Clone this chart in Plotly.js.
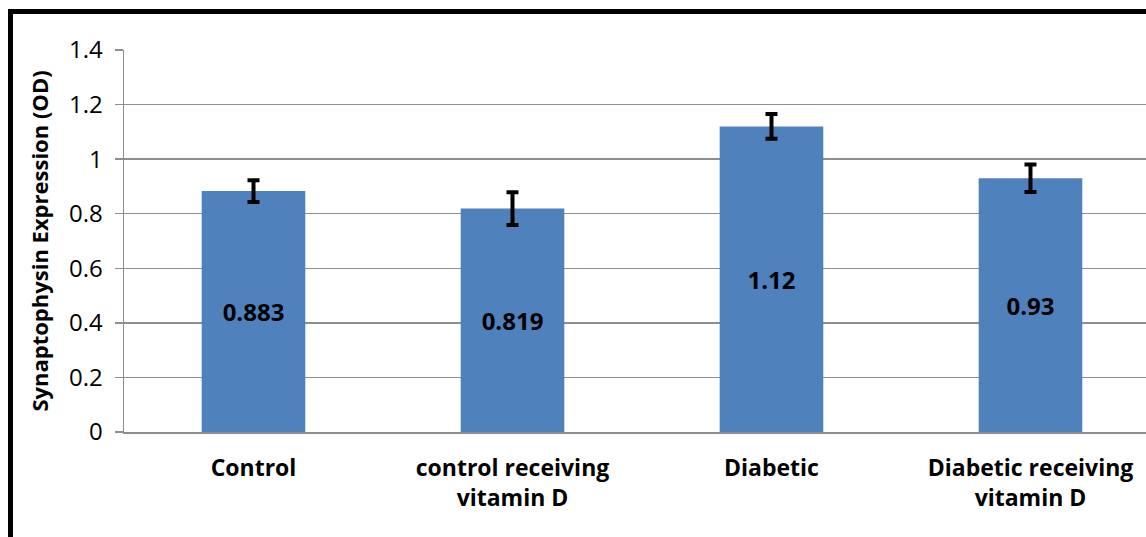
<!DOCTYPE html>
<html>
<head>
<meta charset="utf-8">
<script src="https://cdn.plot.ly/plotly-3.0.1.min.js"></script>
<style>
  html, body { margin: 0; padding: 0; background: #ffffff; }
  #chart { width: 1146px; height: 537px; }
</style>
</head>
<body>
<div id="chart"></div>
<script>
// Data
const categories = [
  "Control",
  "control receiving<br>vitamin D",
  "Diabetic",
  "Diabetic receiving<br>vitamin D"
];
const values = [0.883, 0.819, 1.12, 0.93];
const valueLabels = ["0.883", "0.819", "1.12", "0.93"];
const errors = [0.04, 0.06, 0.045, 0.05];
const yTickValues = [0, 0.2, 0.4, 0.6, 0.8, 1, 1.2, 1.4];

const FONT = "'Open Sans', 'Liberation Sans', sans-serif";
const GRID = "#8e8e8e";

const trace = {
  type: "bar",
  x: categories,
  y: values,
  width: 0.4,
  marker: { color: "#4f81bd", line: { width: 0 } },
  text: valueLabels,
  textposition: "inside",
  insidetextanchor: "middle",
  textangle: 0,
  textfont: { family: FONT, size: 24, color: "#000000", weight: "bold" },
  error_y: {
    type: "data",
    array: errors,
    visible: true,
    color: "#000000",
    thickness: 4,
    width: 6
  },
  hoverinfo: "skip"
};

const layout = {
  width: 1146,
  height: 537,
  margin: { l: 124, r: 0, t: 50, b: 105 },
  paper_bgcolor: "#ffffff",
  plot_bgcolor: "#ffffff",
  showlegend: false,
  font: { family: FONT, color: "#000000" },
  xaxis: {
    type: "category",
    range: [-0.5, 3.446],
    showgrid: false,
    showline: true,
    linecolor: GRID,
    linewidth: 1.5,
    ticks: "",
    tickfont: { family: FONT, size: 23, color: "#000000", weight: "bold" },
    ticklabelstandoff: 15,
    zeroline: false
  },
  yaxis: {
    range: [0, 1.4],
    tickvals: yTickValues,
    ticktext: yTickValues.map(v => String(v)),
    showgrid: true,
    gridcolor: GRID,
    gridwidth: 1.5,
    showline: true,
    linecolor: GRID,
    linewidth: 1.5,
    ticks: "outside",
    ticklen: 8,
    tickcolor: GRID,
    tickwidth: 1.5,
    tickfont: { family: FONT, size: 24, color: "#000000" },
    ticklabelstandoff: 7,
    zeroline: false,
    title: {
      text: "<b>Synaptophysin Expression (OD)</b>",
      font: { family: FONT, size: 22, color: "#000000", weight: "bold" },
      standoff: 14
    }
  },
  shapes: [
    // black frame (left and top edges visible in the reference)
    { type: "line", xref: "paper", yref: "paper",
      x0: (10.5 - 124) / 1022, x1: (10.5 - 124) / 1022,
      y0: 1 + (50 - 11.5) / 382, y1: -0.3,
      line: { color: "#000000", width: 5 } },
    { type: "line", xref: "paper", yref: "paper",
      x0: (8 - 124) / 1022, x1: 1.01,
      y0: 1 + (50 - 11.5) / 382, y1: 1 + (50 - 11.5) / 382,
      line: { color: "#000000", width: 5 } }
  ]
};

Plotly.newPlot("chart", [trace], layout, { staticPlot: true, displayModeBar: false });
</script>
</body>
</html>
